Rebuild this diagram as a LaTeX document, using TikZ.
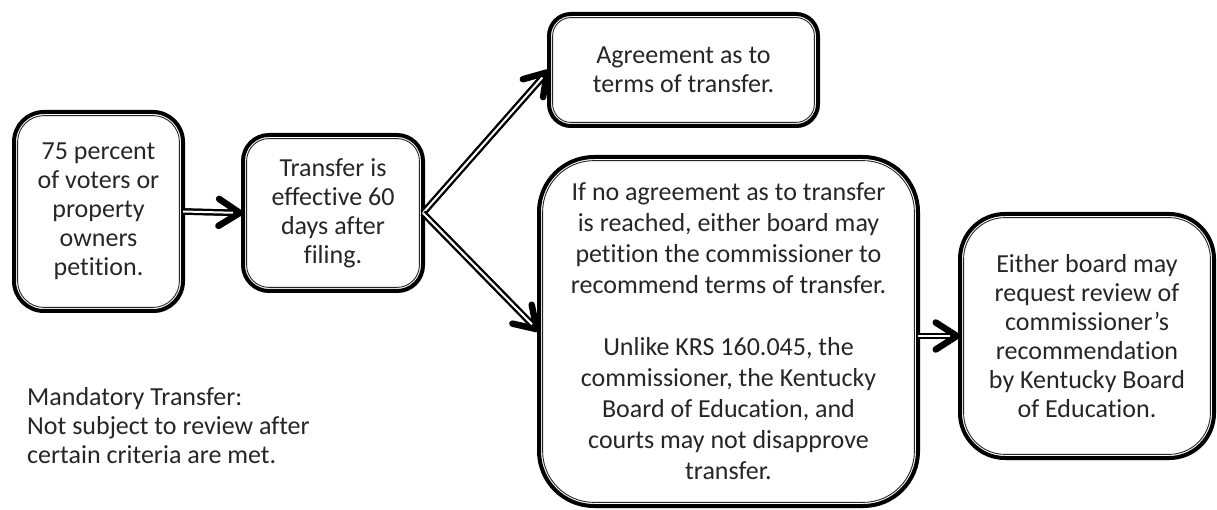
\documentclass[tikz,border=0pt]{standalone}
\usepackage{fontspec}
\setmainfont{Carlito}[Ligatures={CommonOff}]
\usetikzlibrary{arrows.meta,shadows}
\definecolor{txt}{HTML}{262626}
\begin{document}
\begin{tikzpicture}[x=1pt,y=-1pt,
  box/.style={draw=black, line width=4pt, fill=white, rounded corners=#1,
    inner sep=0pt, outer sep=0pt, align=center, text=txt,
    font=\fontsize{26}{29}\selectfont,
    drop shadow={shadow xshift=1.5pt, shadow yshift=-2pt, opacity=.25, fill=black},
    path picture={\draw[black!85, line width=0.9pt, rounded corners=#1-3.6pt]
      ([shift={(3.6pt,-3.6pt)}]path picture bounding box.north west) rectangle
      ([shift={(-3.6pt,3.6pt)}]path picture bounding box.south east);}},
  head/.style={draw=black, line width=6.5pt,
    -{Straight Barb[length=21pt, width=27pt, round]}},
  shaft/.style={draw=black, line width=2.2pt, double=white, double distance=2pt,
    shorten >=10pt},
  note/.style={anchor=west, align=left, text=txt, inner sep=0pt,
    font=\fontsize{26}{29}\selectfont}
]
\fill[white] (0,0) rectangle (1217,510);
\useasboundingbox (0,0) rectangle (1217,510);

\node[box=30pt, minimum width=169pt, minimum height=199pt] (b1) at (98.5,211.5)
  {75 percent\\of voters or\\property\\owners\\petition.};
\node[box=26pt, minimum width=180pt, minimum height=156pt] (b2) at (333,213)
  {Transfer is\\effective 60\\days after\\filing.};
\node[box=22pt, minimum width=269pt, minimum height=112pt] (b3) at (683.5,70)
  {Agreement as to\\terms of transfer.};
\node[box=55pt, minimum width=379pt, minimum height=349pt,
  font=\fontsize{26}{31}\selectfont] (b4) at (728.5,331.5)
  {If no agreement as to transfer\\is reached, either board may\\petition the commissioner to\\recommend terms of transfer.\\[31pt]Unlike KRS 160.045, the\\commissioner, the Kentucky\\Board of Education, and\\courts may not disapprove\\transfer.};
\node[box=45pt, minimum width=254pt, minimum height=244pt] (b5) at (1087,336)
  {Either board may\\request review of\\commissioner’s\\recommendation\\by Kentucky Board\\of Education.};

\node[note] (n) at (27,426) {Mandatory Transfer:\\Not subject to review after\\certain criteria are met.};

\draw[head] (b1.east) -- (b2.west);
\draw[shaft] (b1.east) -- (b2.west);
\draw[head] (b2.east) -- (b3.west);
\draw[shaft] (b2.east) -- (b3.west);
\draw[head] (b2.east) -- (b4.west);
\draw[shaft] (b2.east) -- (b4.west);
\draw[head] (b4.east |- b5.west) -- (b5.west);
\draw[shaft] (b4.east |- b5.west) -- (b5.west);
\end{tikzpicture}
\end{document}
